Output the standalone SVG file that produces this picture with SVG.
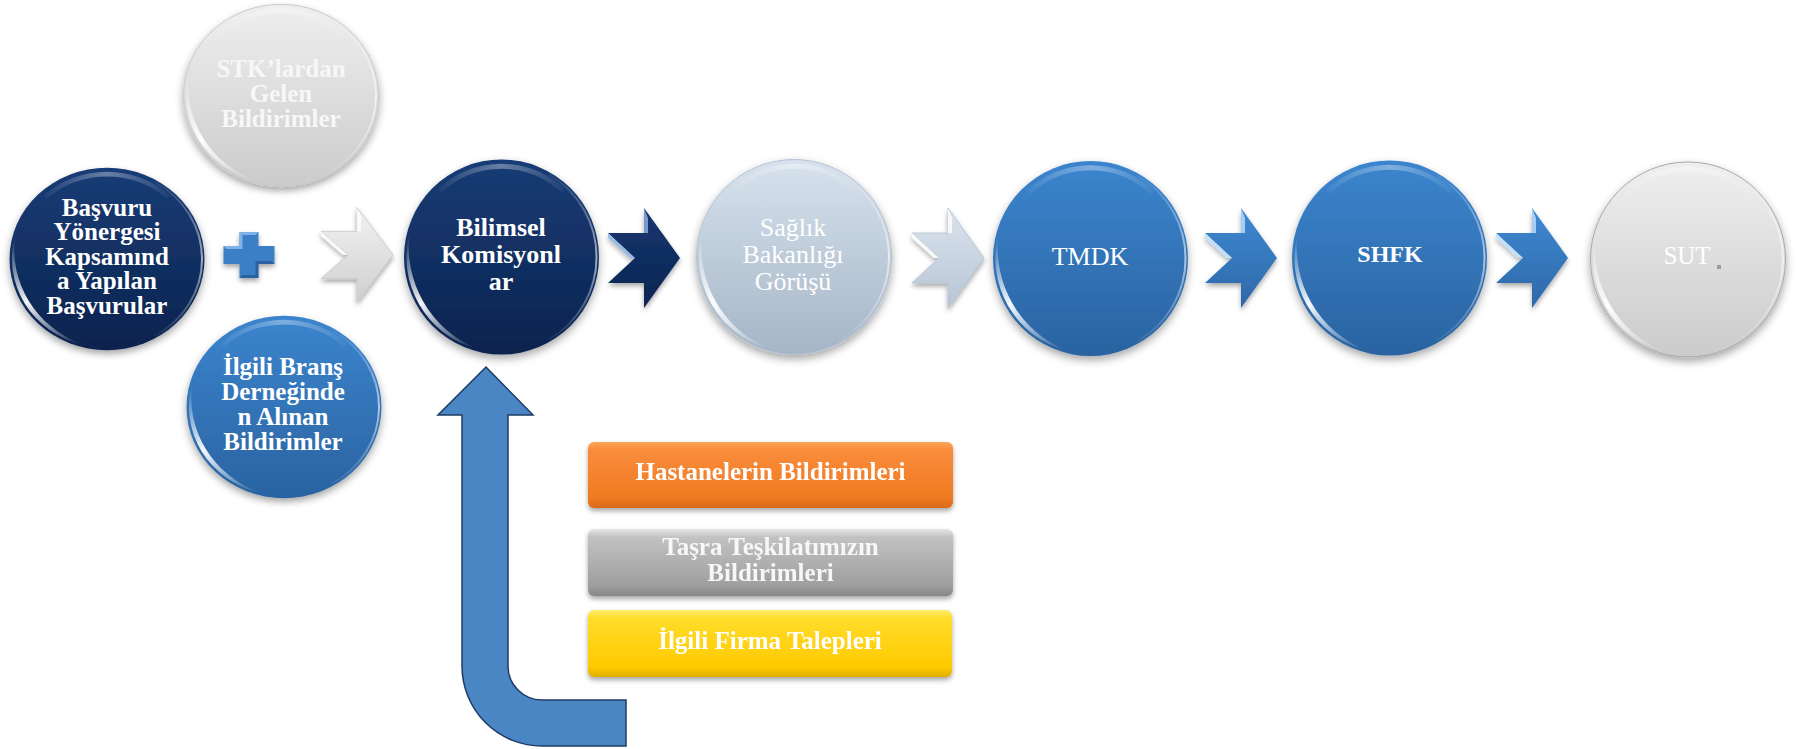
<svg xmlns="http://www.w3.org/2000/svg" width="1796" height="749" viewBox="0 0 1796 749">
<defs>
<style>
text { font-family: "Liberation Serif", "Times New Roman", serif; fill: #ffffff; text-anchor: middle; }
.b { font-weight: bold; }
.f24 { font-size: 24px; }
.f25 { font-size: 25px; }
.f26 { font-size: 26px; }
.faint { fill: #f7f7f7; }
.arrowU { fill: #4a86c4; stroke: #1d3c64; stroke-width: 1.5; }
</style>
<filter id="sh" x="-20%" y="-20%" width="140%" height="150%">
<feDropShadow dx="0" dy="4" stdDeviation="4" flood-color="#000" flood-opacity="0.35"/>
</filter>
<filter id="shs" x="-20%" y="-20%" width="140%" height="150%">
<feDropShadow dx="0" dy="3" stdDeviation="2.5" flood-color="#000" flood-opacity="0.35"/>
</filter>
<linearGradient id="gNavy" x1="0" y1="0" x2="0" y2="1">
<stop offset="0" stop-color="#183c76"/><stop offset="1" stop-color="#0b234e"/>
</linearGradient>
<linearGradient id="gBlue" x1="0" y1="0" x2="0" y2="1">
<stop offset="0" stop-color="#3b85ce"/><stop offset="1" stop-color="#2a63a1"/>
</linearGradient>
<linearGradient id="gPale" x1="0" y1="0" x2="0" y2="1">
<stop offset="0" stop-color="#d7e2ed"/><stop offset="1" stop-color="#a5b5c6"/>
</linearGradient>
<linearGradient id="gGray" x1="0" y1="0" x2="0" y2="1">
<stop offset="0" stop-color="#efefef"/><stop offset="1" stop-color="#cbcbcb"/>
</linearGradient>
<linearGradient id="gOrange" x1="0" y1="0" x2="0" y2="1">
<stop offset="0" stop-color="#fca458"/><stop offset="0.12" stop-color="#f98c3b"/><stop offset="0.85" stop-color="#f07a22"/><stop offset="1" stop-color="#d8691a"/>
</linearGradient>
<linearGradient id="gGrayR" x1="0" y1="0" x2="0" y2="1">
<stop offset="0" stop-color="#e6e6e6"/><stop offset="0.12" stop-color="#c2c2c2"/><stop offset="0.85" stop-color="#9e9e9e"/><stop offset="1" stop-color="#878787"/>
</linearGradient>
<linearGradient id="gYellow" x1="0" y1="0" x2="0" y2="1">
<stop offset="0" stop-color="#ffec70"/><stop offset="0.12" stop-color="#ffdc2a"/><stop offset="0.85" stop-color="#ffca00"/><stop offset="1" stop-color="#e0ad00"/>
</linearGradient>
<linearGradient id="gChW" x1="0" y1="0" x2="0" y2="1">
<stop offset="0" stop-color="#f2f2f2"/><stop offset="1" stop-color="#cfcfcf"/>
</linearGradient>
<linearGradient id="gChN" x1="0" y1="0" x2="0" y2="1">
<stop offset="0" stop-color="#153670"/><stop offset="1" stop-color="#0c2550"/>
</linearGradient>
<linearGradient id="gChP" x1="0" y1="0" x2="0" y2="1">
<stop offset="0" stop-color="#dbe4ee"/><stop offset="1" stop-color="#b7c5d5"/>
</linearGradient>
<linearGradient id="gChB" x1="0" y1="0" x2="0" y2="1">
<stop offset="0" stop-color="#3f89d2"/><stop offset="1" stop-color="#2d68a8"/>
</linearGradient>
<linearGradient id="gl" gradientUnits="userSpaceOnUse" x1="-92" y1="-25" x2="-25" y2="92">
<stop offset="0" stop-color="#fff" stop-opacity="0"/>
<stop offset="0.5" stop-color="#fff" stop-opacity="0.95"/>
<stop offset="1" stop-color="#fff" stop-opacity="0"/>
</linearGradient>
<linearGradient id="rim" gradientUnits="userSpaceOnUse" x1="0" y1="-90" x2="0" y2="90">
<stop offset="0" stop-color="#fff" stop-opacity="0"/>
<stop offset="0.5" stop-color="#fff" stop-opacity="0.6"/>
<stop offset="1" stop-color="#fff" stop-opacity="0"/>
</linearGradient>
<linearGradient id="topHi" gradientUnits="userSpaceOnUse" x1="-70" y1="0" x2="70" y2="0">
<stop offset="0" stop-color="#fff" stop-opacity="0"/>
<stop offset="0.5" stop-color="#fff" stop-opacity="0.35"/>
<stop offset="1" stop-color="#fff" stop-opacity="0"/>
</linearGradient>
<g id="gloss">
<path d="M-91.8,-24.6 A95,95 0 0 0 -24.6,91.8 A110,110 0 0 1 -91.8,-24.6 Z" fill="url(#gl)"/>
<path d="M47.5,-82.3 A95,95 0 0 1 47.5,82.3" fill="none" stroke="url(#rim)" stroke-width="2"/>
<path d="M-62,-66 A90,90 0 0 1 62,-66" fill="none" stroke="url(#topHi)" stroke-width="5"/>
</g>
<path id="chev" d="M0,-25 L27,0 L0,25 L36,25 L36,50 L72,0 L36,-50 L36,-25 Z"/>
<path id="chevHi" d="M0,-25 L27,0 L22,0 L0,-20 Z M36,-25 L36,-50 L40,-40 L40,-25 Z"/>
</defs>
<rect width="1796" height="749" fill="#ffffff"/>

<g id="connectors">
<g id="plus" filter="url(#shs)">
<path d="M239.5,232 h19 v14 h16 v18 h-16 v14 h-19 v-14 h-16 v-18 h16 z" fill="#3a7fc6"/>
<path d="M239.5,232 h19 l-3,3 h-13 v14 h-16 l-3,-3 h16 z" fill="#8fc0ee" opacity="0.8"/>
<path d="M274.5,264 h-16 v14 h-19 l3,-3 h13 v-14 h16 z" fill="#1f4f88" opacity="0.6"/>
</g>
<g id="chev-1" transform="translate(321,255) scale(1,0.95)" filter="url(#shs)">
<use href="#chev" fill="url(#gChW)" stroke="#c4c4c4" stroke-width="0.8"/>
<use href="#chevHi" fill="#ffffff" opacity="0.8"/>
</g>
<g id="chev-2" transform="translate(608,258)" filter="url(#shs)">
<use href="#chev" fill="url(#gChN)"/>
<use href="#chevHi" fill="#8fb4e3" opacity="0.8"/>
</g>
<g id="chev-3" transform="translate(912,258)" filter="url(#shs)">
<use href="#chev" fill="url(#gChP)" stroke="#b0bfd0" stroke-width="0.8"/>
<use href="#chevHi" fill="#ffffff" opacity="0.8"/>
</g>
<g id="chev-4" transform="translate(1205,258)" filter="url(#shs)">
<use href="#chev" fill="url(#gChB)"/>
<use href="#chevHi" fill="#bfe0ff" opacity="0.8"/>
</g>
<g id="chev-5" transform="translate(1496,258)" filter="url(#shs)">
<use href="#chev" fill="url(#gChB)"/>
<use href="#chevHi" fill="#bfe0ff" opacity="0.8"/>
</g>
<path id="u-arrow" class="arrowU" d="M486,367 L533,415 L508,415 L508,666 A34,34 0 0 0 542,700 L626,700 L626,746 L542,746 A80,80 0 0 1 462,666 L462,415 L438,415 Z"/>
</g>

<g id="n-basvuru">
<g transform="translate(107,259) scale(1.0,0.935)" filter="url(#sh)">
<circle r="97.5" fill="url(#gNavy)"/>
<use href="#gloss"/>
</g>
<text class="b f25" x="107" y="215.5">Başvuru</text>
<text class="b f25" x="107" y="240">Yönergesi</text>
<text class="b f25" x="107" y="264.5">Kapsamınd</text>
<text class="b f25" x="107" y="289">a Yapılan</text>
<text class="b f25" x="107" y="313.5">Başvurular</text>
</g>

<g id="n-stk">
<g transform="translate(281,95.5) scale(1.0,0.935)" filter="url(#sh)">
<circle r="97.5" fill="url(#gGray)" stroke="#c8c8c8" stroke-width="1"/>
<use href="#gloss"/>
</g>
<text class="b f25 faint" x="281" y="77">STK’lardan</text>
<text class="b f25 faint" x="281" y="102">Gelen</text>
<text class="b f25 faint" x="281" y="127">Bildirimler</text>
</g>

<g id="n-brans">
<g transform="translate(284,407) scale(1.0,0.935)" filter="url(#sh)">
<circle r="97.5" fill="url(#gBlue)"/>
<use href="#gloss"/>
</g>
<text class="b f25" x="283" y="375">İlgili Branş</text>
<text class="b f25" x="283" y="400">Derneğinde</text>
<text class="b f25" x="283" y="425">n Alınan</text>
<text class="b f25" x="283" y="450">Bildirimler</text>
</g>

<g id="n-bilimsel">
<g transform="translate(501.5,257)" filter="url(#sh)">
<circle r="97.5" fill="url(#gNavy)"/>
<use href="#gloss"/>
</g>
<text class="b f26" x="501" y="236">Bilimsel</text>
<text class="b f26" x="501" y="263">Komisyonl</text>
<text class="b f26" x="501" y="290">ar</text>
</g>

<g id="n-saglik">
<g transform="translate(794,257)" filter="url(#sh)">
<circle r="97.5" fill="url(#gPale)" stroke="#b6c3d1" stroke-width="1"/>
<use href="#gloss"/>
</g>
<text class="f26" x="793" y="236">Sağlık</text>
<text class="f26" x="793" y="263">Bakanlığı</text>
<text class="f26" x="793" y="290">Görüşü</text>
</g>

<g id="n-tmdk">
<g transform="translate(1090.5,258.5)" filter="url(#sh)">
<circle r="97.5" fill="url(#gBlue)"/>
<use href="#gloss"/>
</g>
<text class="f26" x="1090" y="265">TMDK</text>
</g>

<g id="n-shfk">
<g transform="translate(1389.5,258)" filter="url(#sh)">
<circle r="97.5" fill="url(#gBlue)"/>
<use href="#gloss"/>
</g>
<text class="b f24" x="1390" y="262">SHFK</text>
</g>

<g id="n-sut">
<g transform="translate(1688,259.5)" filter="url(#sh)">
<circle r="97.5" fill="url(#gGray)" stroke="#a8a8a8" stroke-width="1"/>
<use href="#gloss"/>
</g>
<text class="f25" x="1687" y="264">SUT</text>
<rect x="1717" y="265" width="4" height="4" fill="#9a9a9a"/>
</g>

<g id="n-hastane" filter="url(#shs)">
<rect x="588" y="442" width="365" height="66" rx="6" fill="url(#gOrange)"/>
<text class="b f25" x="770.5" y="480">Hastanelerin Bildirimleri</text>
</g>

<g id="n-tasra" filter="url(#shs)">
<rect x="588" y="529" width="365" height="67" rx="6" fill="url(#gGrayR)"/>
<text class="b f25 faint" x="770.5" y="555">Taşra Teşkilatımızın</text>
<text class="b f25 faint" x="770.5" y="581">Bildirimleri</text>
</g>

<g id="n-firma" filter="url(#shs)">
<rect x="588" y="610" width="364" height="67" rx="6" fill="url(#gYellow)"/>
<text class="b f25" x="770" y="649">İlgili Firma Talepleri</text>
</g>
</svg>
